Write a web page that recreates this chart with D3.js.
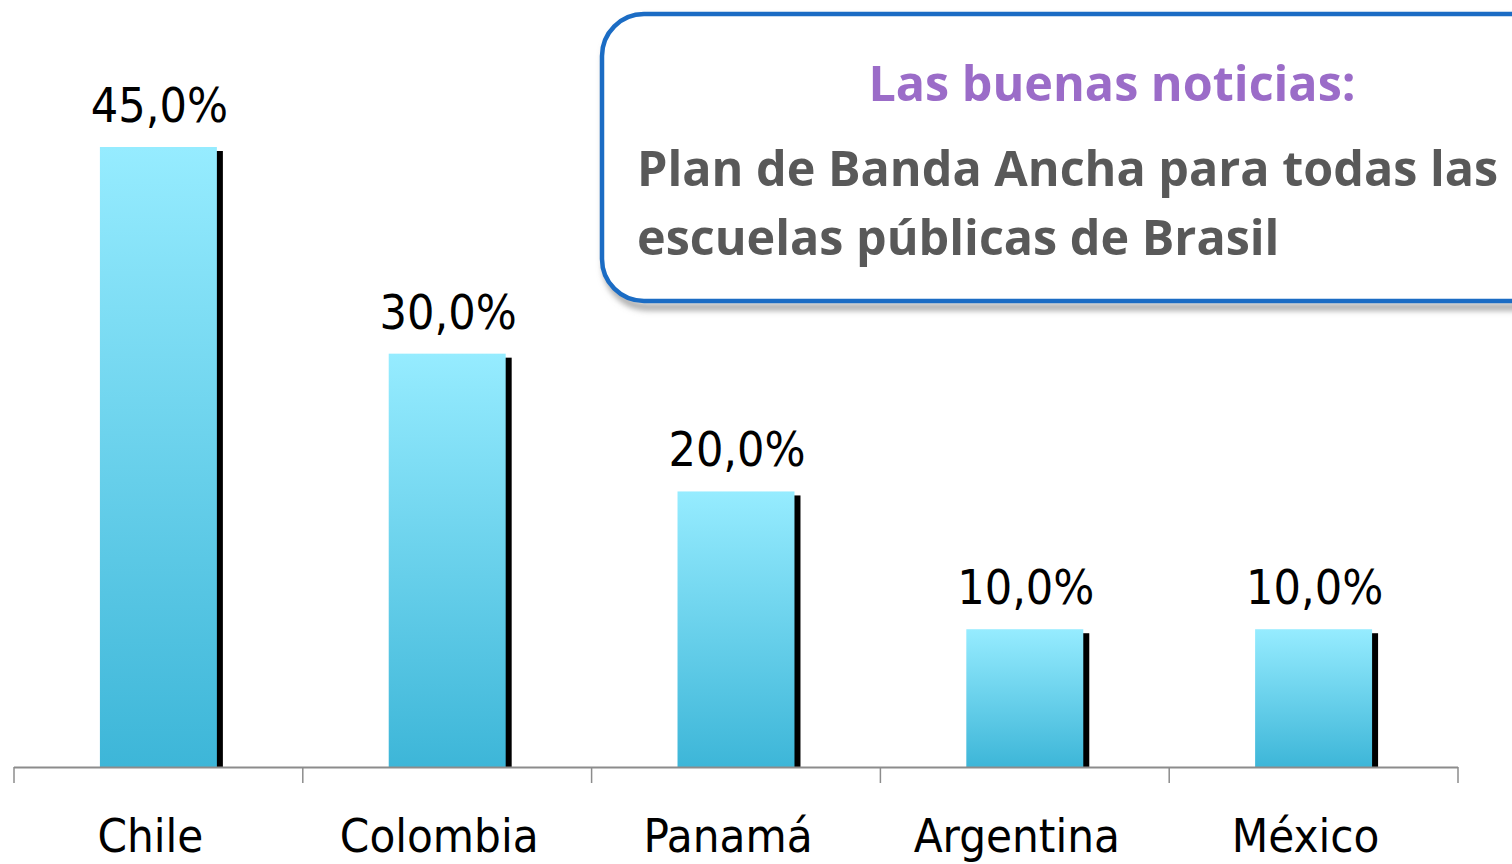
<!DOCTYPE html>
<html>
<head>
<meta charset="utf-8">
<script src="https://cdn.jsdelivr.net/npm/d3@7"></script>
<style>
  html, body { margin: 0; padding: 0; background: #fff; overflow: hidden; }
</style>
</head>
<body>
<div id="chart"></div>
<script>
const countries = ['Chile', 'Colombia', 'Panamá', 'Argentina', 'México']
const shares = [45, 30, 20, 10, 10]
const boxTitle = 'Las buenas noticias:'
const boxLines = ['Plan de Banda Ancha para todas las', 'escuelas públicas de Brasil']

const width = 1512
const height = 864
const plotLeft = 14
const plotRight = 1458
const baseline = 767
const plotTop = 147

const svg = d3.select('#chart')
  .append('svg')
  .attr('width', width)
  .attr('height', height)

const defs = svg.append('defs')

let grad = defs.append('linearGradient')
  .attr('id', 'barFill')
  .attr('x1', 0).attr('y1', 0).attr('x2', 0).attr('y2', 1)
grad.append('stop').attr('offset', '0%').attr('stop-color', '#96ecff')
grad.append('stop').attr('offset', '100%').attr('stop-color', '#3db6d8')

let blur = defs.append('filter')
  .attr('id', 'boxShadow')
  .attr('x', '-5%').attr('y', '-10%').attr('width', '115%').attr('height', '130%')
blur.append('feGaussianBlur').attr('stdDeviation', 3)

/* Scales */
let x = d3.scaleBand()
  .domain(countries)
  .range([plotLeft, plotRight])
  .paddingInner(0)
  .paddingOuter(0)

let y = d3.scaleLinear()
  .domain([0, 45])
  .range([baseline, plotTop])

let barW = x.bandwidth() * 0.405

/* Bars */
let bars = svg.append('g').attr('class', 'bars')

bars.selectAll('.shadow')
  .data(countries)
  .enter()
  .append('rect')
  .attr('class', 'shadow')
  .attr('x', d => x(d) + x.bandwidth() / 2 - barW / 2 + 6)
  .attr('y', (d, i) => y(shares[i]) + 4)
  .attr('width', barW)
  .attr('height', (d, i) => baseline - y(shares[i]) - 4)
  .attr('fill', '#000')

bars.selectAll('.bar')
  .data(countries)
  .enter()
  .append('rect')
  .attr('class', 'bar')
  .attr('x', d => x(d) + x.bandwidth() / 2 - barW / 2)
  .attr('y', (d, i) => y(shares[i]))
  .attr('width', barW)
  .attr('height', (d, i) => baseline - y(shares[i]))
  .attr('fill', 'url(#barFill)')

bars.selectAll('.value')
  .data(countries)
  .enter()
  .append('text')
  .attr('class', 'value')
  .attr('x', d => x(d) + x.bandwidth() / 2 + 1)
  .attr('y', (d, i) => y(shares[i]) - 25)
  .attr('text-anchor', 'middle')
  .style('font-family', '"DejaVu Sans Condensed", "DejaVu Sans", sans-serif')
  .style('font-size', '48px')
  .attr('fill', '#000')
  .text((d, i) => d3.format('.1f')(shares[i]).replace('.', ',') + '%')

/* Axis */
let xAxis = d3.axisBottom(x).tickSize(0).tickPadding(0)
let axis = svg.append('g')
  .attr('class', 'x axis')
  .attr('transform', `translate(0, ${baseline})`)
  .call(xAxis)

axis.select('.domain').remove()
axis.append('line')
  .attr('x1', plotLeft).attr('x2', plotRight)
  .attr('y1', 0.5).attr('y2', 0.5)
  .attr('stroke', '#8c8c8c')
  .attr('stroke-width', 2)

axis.selectAll('.sep')
  .data(countries.concat(['end']))
  .enter()
  .append('line')
  .attr('class', 'sep')
  .attr('x1', (d, i) => plotLeft + i * x.step())
  .attr('x2', (d, i) => plotLeft + i * x.step())
  .attr('y1', 0).attr('y2', 16)
  .attr('stroke', '#8c8c8c')
  .attr('stroke-width', 1.5)

axis.selectAll('.tick text')
  .attr('y', 85)
  .attr('dy', 0)
  .attr('dx', -8)
  .attr('fill', '#000')
  .style('font-family', '"DejaVu Sans Condensed", "DejaVu Sans", sans-serif')
  .style('font-size', '47px')

/* Call-out box */
let box = svg.append('g').attr('class', 'callout')

box.append('rect')
  .attr('x', 606).attr('y', 20)
  .attr('width', 960).attr('height', 287)
  .attr('rx', 42).attr('ry', 42)
  .attr('fill', 'none')
  .attr('stroke', '#9a9a9a')
  .attr('stroke-width', 6)
  .attr('filter', 'url(#boxShadow)')

box.append('rect')
  .attr('x', 602).attr('y', 14)
  .attr('width', 960).attr('height', 287)
  .attr('rx', 42).attr('ry', 42)
  .attr('fill', '#fff')
  .attr('stroke', '#1b6cc4')
  .attr('stroke-width', 4.5)

box.append('text')
  .attr('x', 1112)
  .attr('y', 101)
  .attr('text-anchor', 'middle')
  .attr('fill', '#9b6cc8')
  .style('font-family', '"Open Sans", sans-serif')
  .style('font-weight', 'bold')
  .style('font-size', '48.5px')
  .text(boxTitle)

box.selectAll('.line')
  .data(boxLines)
  .enter()
  .append('text')
  .attr('class', 'line')
  .attr('x', 637)
  .attr('y', (d, i) => 186 + i * 69)
  .attr('fill', '#595959')
  .style('font-family', '"Open Sans", sans-serif')
  .style('font-weight', 'bold')
  .style('font-size', '48.5px')
  .text(d => d)
</script>
</body>
</html>
